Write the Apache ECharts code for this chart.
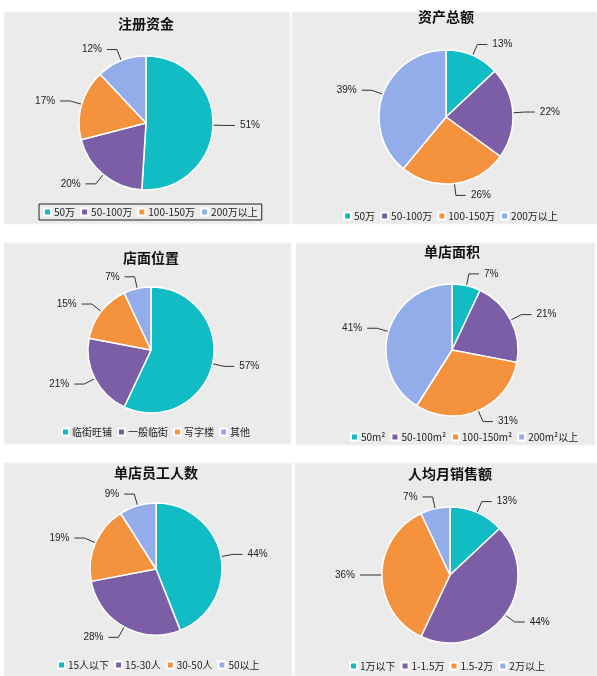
<!DOCTYPE html>
<html><head><meta charset="utf-8">
<script src="https://cdn.jsdelivr.net/npm/echarts@6/dist/echarts.min.js"></script>
<style>html,body{margin:0;padding:0;background:#fff;}#c{width:597px;height:676px;}</style>
</head><body><div id="c"></div>
<script>
// ---- data ----
const titles = ['注册资金', '资产总额', '店面位置', '单店面积', '单店员工人数', '人均月销售额'];
const cat1 = ['50万', '50-100万', '100-150万', '200万以上'];
const val1 = [51, 20, 17, 12];
const cat2 = ['50万', '50-100万', '100-150万', '200万以上'];
const val2 = [13, 22, 26, 39];
const cat3 = ['临街旺铺', '一般临街', '写字楼', '其他'];
const val3 = [57, 21, 15, 7];
const cat4 = ['50m²', '50-100m²', '100-150m²', '200m²以上'];
const val4 = [7, 21, 31, 41];
const cat5 = ['15人以下', '15-30人', '30-50人', '50以上'];
const val5 = [44, 28, 19, 9];
const cat6 = ['1万以下', '1-1.5万', '1.5-2万', '2万以上'];
const val6 = [13, 44, 36, 7];

const cats = [cat1, cat2, cat3, cat4, cat5, cat6];
const vals = [val1, val2, val3, val4, val5, val6];

// ---- layout / style ----
const colors = ['#12bcc5', '#7b5ea6', '#f5923e', '#93adeb'];
const panels = [
  {x: 4,   y: 12,  w: 286, h: 212, cx: 142, cy: 111, r: 67, ty: 17,  lx: 39,  ly: 204, border: true},
  {x: 292, y: 12,  w: 305, h: 212, cx: 154, cy: 105, r: 67, ty: 10,  lx: 343, ly: 211},
  {x: 4,   y: 243, w: 287, h: 201, cx: 147, cy: 107, r: 63, ty: 251, lx: 61,  ly: 427},
  {x: 296, y: 243, w: 299, h: 202, cx: 156, cy: 107, r: 66, ty: 245, lx: 350, ly: 432},
  {x: 4,   y: 463, w: 288, h: 213, cx: 152, cy: 106, r: 66, ty: 466, lx: 57,  ly: 660},
  {x: 295, y: 463, w: 302, h: 213, cx: 155, cy: 112, r: 68, ty: 467, lx: 349, ly: 661}
];

const chart = echarts.init(document.getElementById('c'));
const option = {
  animation: false,
  color: colors,
  graphic: panels.map(p => ({
    type: 'rect', z: -10, silent: true,
    shape: {x: p.x, y: p.y, width: p.w, height: p.h},
    style: {fill: '#ebebeb', stroke: '#f4f4f4', lineWidth: 1}
  })),
  title: panels.map((p, i) => ({
    text: titles[i],
    left: p.x + p.cx, top: p.ty, textAlign: 'center', padding: 0,
    textStyle: {fontSize: 14, fontWeight: 'bold', color: '#111', fontFamily: 'Noto Sans CJK SC'}
  })),
  legend: panels.map((p, i) => ({
    data: cats[i],
    left: p.lx, top: p.ly, orient: 'horizontal',
    itemWidth: 7, itemHeight: 7, itemGap: 5, icon: 'rect',
    padding: p.border ? [3, 4] : 0,
    borderColor: p.border ? '#222' : 'transparent',
    borderWidth: p.border ? 1 : 0,
    selectedMode: false,
    textStyle: {fontSize: 10, color: '#222', fontFamily: 'Noto Sans CJK SC', padding: [0, 0, 0, -2]}
  })),
  series: panels.map((p, i) => ({
    type: 'pie',
    left: p.x, top: p.y, width: p.w, height: p.h,
    center: [p.cx, p.cy], radius: p.r,
    startAngle: 90, clockwise: true,
    avoidLabelOverlap: true,
    data: cats[i].map((n, k) => ({name: n, value: vals[i][k]})),
    itemStyle: {borderColor: '#ffffff', borderWidth: 1.5},
    label: {
      formatter: '{c}%', alignTo: 'none',
      fontSize: 10, color: '#222', fontFamily: 'Liberation Sans'
    },
    labelLine: {length: 12, length2: 10, lineStyle: {color: '#333', width: 1}},
    emphasis: {disabled: true}
  }))
};
chart.setOption(option);
</script>
</body></html>
